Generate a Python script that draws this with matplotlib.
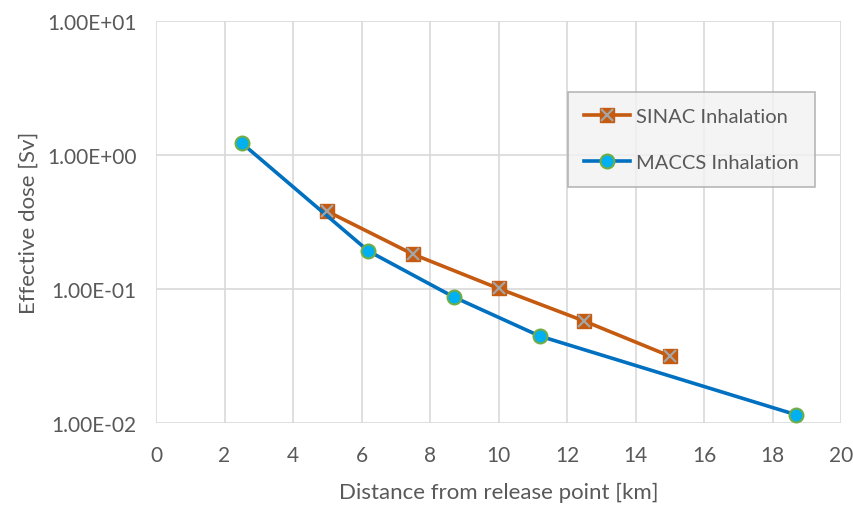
import matplotlib.pyplot as plt
from matplotlib.ticker import FixedLocator, NullLocator
from matplotlib.lines import Line2D

plt.rcParams['font.family'] = ['Lato', 'DejaVu Sans']

# data
sinac_km = [5, 7.5, 10, 12.5, 15]
sinac_dose = [0.38, 0.182, 0.101, 0.0577, 0.0316]
maccs_km = [2.5, 6.2, 8.7, 11.2, 18.7]
maccs_dose = [1.23, 0.192, 0.087, 0.0446, 0.0115]
y_ticks = [1e-2, 1e-1, 1e0, 1e1]
y_labels = ['1.00E-02', '1.00E-01', '1.00E+00', '1.00E+01']

txt = '#595959'
grid = '#d9d9d9'
orange = '#c55a11'
blue = '#0070c0'

fig = plt.figure(figsize=(8.54, 5.06), dpi=100)
ax = fig.add_axes([0.1827, 0.162, 0.8021, 0.7945])

ax.plot(sinac_km, sinac_dose, color=orange, lw=2.6, marker='s', ms=10,
        mfc=orange, mec=orange, zorder=3)
ax.plot(sinac_km, sinac_dose, ls='none', marker='x', ms=8, mew=1.6,
        color='#a5a5a5', zorder=4)
ax.plot(maccs_km, maccs_dose, color=blue, lw=2.6, marker='o', ms=10,
        mfc='#00b0f0', mec='#70ad47', mew=1.5, zorder=3)

ax.set_yscale('log')
ax.set_ylim(1e-2, 1e1)
ax.set_xlim(0, 20)
ax.set_xticks(range(0, 21, 2))
ax.yaxis.set_major_locator(FixedLocator(y_ticks))
ax.set_yticklabels(y_labels)
ax.yaxis.set_minor_locator(NullLocator())
ax.grid(True, color=grid, lw=1.2)
ax.set_axisbelow(True)
for s in ax.spines.values():
    s.set_visible(False)
ax.tick_params(length=0, colors=txt, labelsize=15)
ax.tick_params(axis='x', pad=16)
ax.tick_params(axis='y', pad=14)

ax.set_xlabel('Distance from release point [km]', color=txt, fontsize=16, labelpad=12)
ax.set_ylabel('Effective dose [Sv]', color=txt, fontsize=16, labelpad=6)

# legend: grey x drawn over the orange square
h1 = (Line2D([], [], color=orange, lw=2.6, marker='s', ms=10, mfc=orange, mec=orange),
      Line2D([], [], ls='none', marker='x', ms=8, mew=1.6, color='#a5a5a5'))
h2 = Line2D([], [], color=blue, lw=2.6, marker='o', ms=10, mfc='#00b0f0', mec='#70ad47', mew=1.5)
leg = ax.legend([h1, h2], ['SINAC Inhalation', 'MACCS Inhalation'],
                loc='upper left', bbox_to_anchor=(0.601, 0.823), fontsize=14.5,
                frameon=True, fancybox=False, facecolor='#f2f2f2', edgecolor='#a6a6a6',
                labelcolor=txt, handlelength=2.3, borderpad=0.8, labelspacing=1.4,
                handletextpad=0.3, borderaxespad=0)
leg.get_frame().set_linewidth(1.2)

fig.savefig('out.png', dpi=100)
